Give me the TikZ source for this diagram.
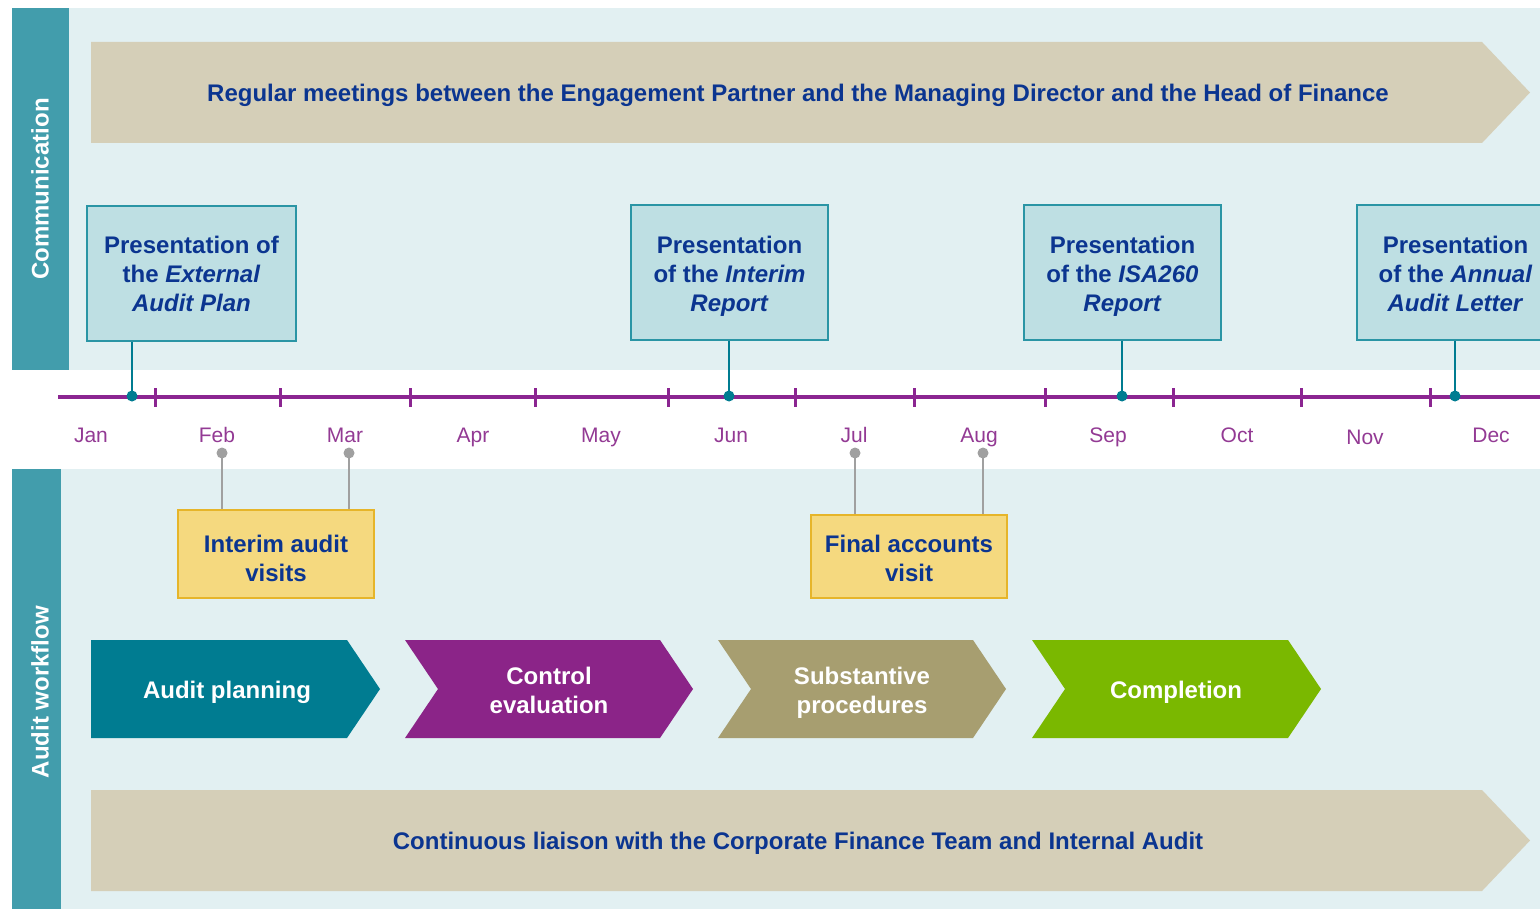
\documentclass[tikz,border=0pt]{standalone}
\usepackage{fontspec}
\setmainfont{Liberation Sans}
\definecolor{sidebar}{HTML}{429DAC}
\definecolor{bandbg}{HTML}{E2F0F2}
\definecolor{tan}{HTML}{D5CFB8}
\definecolor{navy}{HTML}{0B3590}
\definecolor{tlpurple}{HTML}{8B2591}
\definecolor{monthpurple}{HTML}{933A94}
\definecolor{pfill}{HTML}{BEDFE3}
\definecolor{pdraw}{HTML}{2A95A5}
\definecolor{conn}{HTML}{007C91}
\definecolor{yfill}{HTML}{F5D97F}
\definecolor{ydraw}{HTML}{E6B52A}
\definecolor{pingray}{HTML}{A0A0A0}
\definecolor{cteal}{HTML}{007C91}
\definecolor{cpurple}{HTML}{8B2488}
\definecolor{colive}{HTML}{A79E70}
\definecolor{cgreen}{HTML}{7AB800}
\newcommand\capstrut{\rule[-3pt]{0pt}{14.6pt}}
\begin{document}
\begin{tikzpicture}[x=0.5pt,y=-0.5pt,
  bigtxt/.style={font=\fontsize{12}{14.5}\selectfont\bfseries,
    execute at begin node=\capstrut, execute at end node=\capstrut},
  pbox/.style={draw=pdraw, line width=0.75pt, fill=pfill, inner sep=0pt},
  ybox/.style={draw=ydraw, line width=0.75pt, fill=yfill, inner sep=0pt},
  boxtxt/.style={bigtxt, text=navy, align=center, inner sep=0pt},
  month/.style={font=\fontsize{10.5}{12}\selectfont, text=monthpurple, anchor=base},
  tconn/.style={draw=conn, line width=1.4pt},
  gconn/.style={draw=pingray, line width=1.4pt},
  tdot/.style={fill=conn},
  gdot/.style={fill=pingray},
  tick/.style={draw=tlpurple, line width=1.5pt},
  chevtxt/.style={bigtxt, text=white, align=center},
  sidetxt/.style={bigtxt, text=white, rotate=90}
]
\useasboundingbox (0,0) rectangle (1540,909);
\fill[white] (0,0) rectangle (1540,909);
% bands
\fill[bandbg] (69,8) rectangle (1540,370);
\fill[sidebar] (12,8) rectangle (69,370);
\fill[bandbg] (61,469) rectangle (1540,909);
\fill[sidebar] (12,469) rectangle (61,909);
\node[sidetxt] (comm) at (40,189) {Communication};
\node[sidetxt] (wf) at (40,692) {Audit workflow};
% top banner
\fill[tan] (91,42) -- (1482,42) -- (1530,92.5) -- (1482,143) -- (91,143) -- cycle;
\node[bigtxt, text=navy] (topban) at (798,93) {Regular meetings between the Engagement Partner and the Managing Director and the Head of Finance};
% bottom banner
\fill[tan] (91,790) -- (1482,790) -- (1530,840.5) -- (1482,891) -- (91,891) -- cycle;
\node[bigtxt, text=navy] (botban) at (798,841) {Continuous liaison with the Corporate Finance Team and Internal Audit};
% timeline
\draw[tlpurple, line width=1.6pt] (58,397) -- (1540,397);
\foreach \x in {155,280,410,535,668,795,914,1045,1173,1301,1430}
  \draw[tick] (\x,388) -- (\x,407);
% months
\node[month] (jan) at (91,442.5) {Jan};
\node[month] (feb) at (217,442.5) {Feb};
\node[month] (mar) at (345,442.5) {Mar};
\node[month] (apr) at (473,442.5) {Apr};
\node[month] (may) at (601,442.5) {May};
\node[month] (jun) at (731,442.5) {Jun};
\node[month] (jul) at (854,442.5) {Jul};
\node[month] (aug) at (979,442.5) {Aug};
\node[month] (sep) at (1108,442.5) {Sep};
\node[month] (oct) at (1237,442.5) {Oct};
\node[month] (nov) at (1365,444.5) {Nov};
\node[month] (dec) at (1491,442.5) {Dec};
% presentation boxes
\node[pbox, minimum width=104.5pt, minimum height=67.5pt] (p1) at (191.5,273.5) {};
\node[pbox, minimum width=98.5pt, minimum height=67.5pt] (p2) at (729.5,272.5) {};
\node[pbox, minimum width=98.5pt, minimum height=67.5pt] (p3) at (1122.5,272.5) {};
\node[pbox, minimum width=98.5pt, minimum height=67.5pt] (p4) at (1455.5,272.5) {};
\node[boxtxt, yshift=-1.5pt] (t1) at (p1.center) {Presentation of\\the \textit{External}\\\textit{Audit Plan}};
\node[boxtxt, yshift=-2pt] (t2) at (p2.center) {Presentation\\of the \textit{Interim}\\\textit{Report}};
\node[boxtxt, yshift=-2pt] (t3) at (p3.center) {Presentation\\of the \textit{ISA260}\\\textit{Report}};
\node[boxtxt, yshift=-2pt] (t4) at (p4.center) {Presentation\\of the \textit{Annual}\\\textit{Audit Letter}};
\coordinate (d1) at (132,396);
\coordinate (d2) at (729,396);
\coordinate (d3) at (1122,396);
\coordinate (d4) at (1455,396);
\foreach \i in {1,2,3,4}{
  \draw[tconn] (d\i |- p\i.south) -- (d\i);
  \fill[tdot] (d\i) circle (5.5);
}
% yellow boxes
\node[ybox, minimum width=98pt, minimum height=44pt] (iav) at (276,554) {};
\node[ybox, minimum width=98pt, minimum height=41.5pt] (fav) at (909,556.5) {};
\node[boxtxt, yshift=-3.5pt] (iavt) at (iav.center) {Interim audit\\visits};
\node[boxtxt, yshift=-2.5pt] (favt) at (fav.center) {Final accounts\\visit};
\coordinate (g1) at (222,453);
\coordinate (g2) at (349,453);
\coordinate (g3) at (855,453);
\coordinate (g4) at (983,453);
\draw[gconn] (g1) -- (g1 |- iav.north);
\draw[gconn] (g2) -- (g2 |- iav.north);
\draw[gconn] (g3) -- (g3 |- fav.north);
\draw[gconn] (g4) -- (g4 |- fav.north);
\foreach \g in {g1,g2,g3,g4} \fill[gdot] (\g) circle (5.5);
% chevrons
\fill[cteal] (91,640) -- (347,640) -- (380,689) -- (347,738) -- (91,738) -- cycle;
\node[chevtxt] (c1) at (227,690) {Audit planning};
\fill[cpurple] (405,640) -- (660,640) -- (693,689) -- (660,738) -- (405,738) -- (438,689) -- cycle;
\node[chevtxt] (c2) at (549,693) {Control\\evaluation};
\fill[colive] (718,640) -- (973,640) -- (1006,689) -- (973,738) -- (718,738) -- (751,689) -- cycle;
\node[chevtxt] (c3) at (862,693) {Substantive\\procedures};
\fill[cgreen] (1032,640) -- (1288,640) -- (1321,689) -- (1288,738) -- (1032,738) -- (1065,689) -- cycle;
\node[chevtxt] (c4) at (1176,690) {Completion};
\end{tikzpicture}
\end{document}
